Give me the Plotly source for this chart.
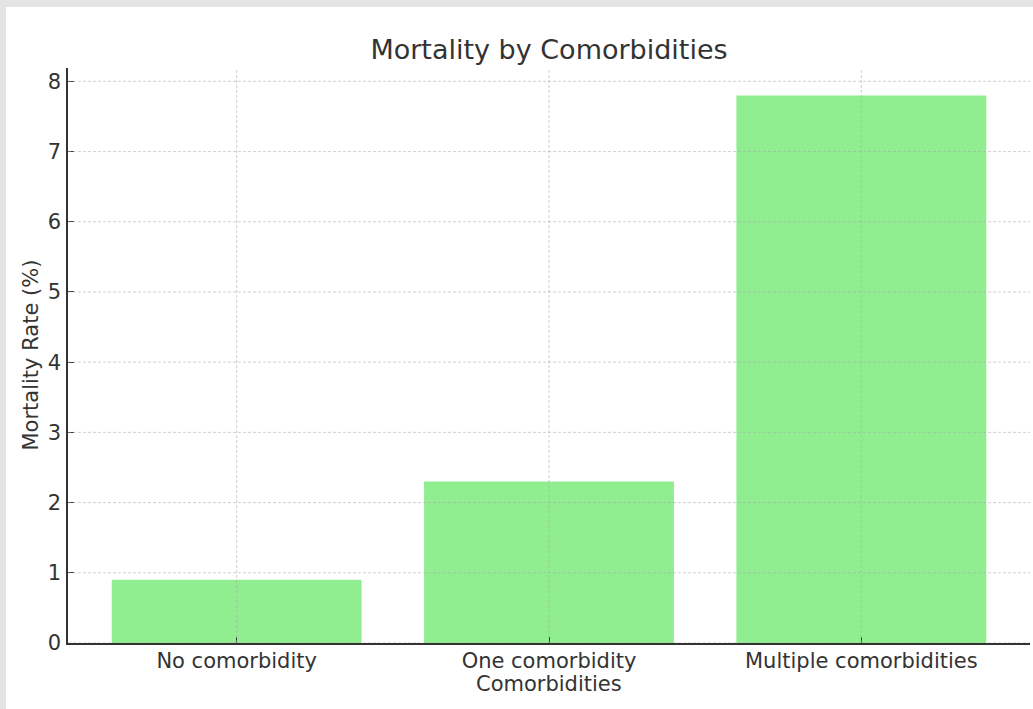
import plotly.graph_objects as go

# Mortality rate by number of comorbidities
categories = ["No comorbidity", "One comorbidity", "Multiple comorbidities"]
mortality_rate = [0.9, 2.3, 7.8]
y_ticks = [0, 1, 2, 3, 4, 5, 6, 7, 8]

W, H = 1033, 709
L, R, T, B = 68, 3, 68, 66
plot_w = W - L - R
plot_h = H - T - B

font_family = "DejaVu Sans, Liberation Sans, sans-serif"
text_color = "#333333"
grid_color = "rgba(170,170,170,0.55)"
label_size = 21

fig = go.Figure(
    go.Bar(
        x=categories,
        y=mortality_rate,
        width=0.8,
        marker=dict(color="#90EE90", line=dict(width=0)),
        hoverinfo="x+y",
    )
)

# dashed grid drawn over the bars
for i, _ in enumerate(categories):
    fig.add_shape(type="line", xref="x", yref="paper", x0=i, x1=i, y0=0, y1=1,
                  line=dict(color=grid_color, width=1, dash="3px,2px"), layer="above")
for v in y_ticks:
    fig.add_shape(type="line", xref="paper", yref="y", x0=0, x1=1, y0=v, y1=v,
                  line=dict(color=grid_color, width=1, dash="3px,2px"), layer="above")

# light grey frame along the top and left edges
fig.add_shape(type="rect", xref="paper", yref="paper",
              x0=(6 - L) / plot_w, x1=(W - L + 5) / plot_w,
              y0=-(B + 5) / plot_h, y1=(plot_h + T - 7) / plot_h,
              fillcolor="white", line=dict(width=0), layer="below")

fig.update_layout(
    width=W, height=H,
    margin=dict(l=L, r=R, t=T, b=B, pad=0),
    paper_bgcolor="#e4e4e4",
    plot_bgcolor="white",
    showlegend=False,
    font=dict(family=font_family, size=label_size, color=text_color),
    title=dict(text="Mortality by Comorbidities", x=(L + plot_w / 2) / W, xanchor="center",
               y=1 - 50 / H, yanchor="middle",
               font=dict(size=27, color=text_color, family=font_family)),
    xaxis=dict(
        range=[-0.54, 2.54],
        showgrid=False,
        showline=True, linecolor="#333333", linewidth=1.5,
        ticks="inside", ticklen=6, tickcolor="#333333", tickwidth=1,
        ticklabelstandoff=-2,
        tickfont=dict(size=label_size, color=text_color),
        zeroline=False,
    ),
    yaxis=dict(
        range=[0, 8.19],
        tickvals=y_ticks,
        showgrid=False,
        showline=True, linecolor="#333333", linewidth=1.5,
        ticks="inside", ticklen=6, tickcolor="#333333", tickwidth=1,
        ticklabelstandoff=1,
        tickfont=dict(size=label_size, color=text_color),
        zeroline=False,
    ),
    annotations=[
        dict(text="Comorbidities", xref="paper", yref="paper",
             x=0.5, y=-(684 - (T + plot_h)) / plot_h, xanchor="center", yanchor="middle",
             showarrow=False, font=dict(size=label_size, color=text_color)),
        dict(text="Mortality Rate (%)", xref="paper", yref="paper",
             x=-(L - 30) / plot_w, y=0.5, xanchor="center", yanchor="middle",
             textangle=-90, showarrow=False, font=dict(size=label_size, color=text_color)),
    ],
)

fig.write_html("out.html")
